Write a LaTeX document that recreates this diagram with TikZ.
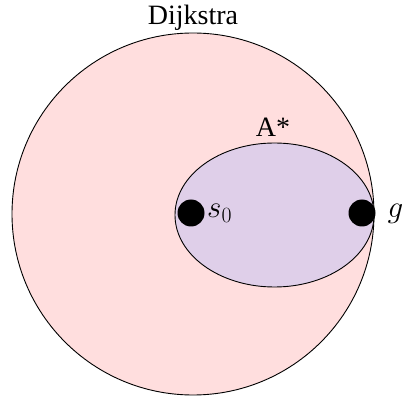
\documentclass[tikz,border=0pt]{standalone}
\usepackage{fix-cm}
\usepackage{fontspec}
\setmainfont{Liberation Serif}
\usetikzlibrary{shapes.geometric}
\definecolor{dijfill}{RGB}{255,222,222}
\definecolor{astarfill}{RGB}{223,207,233}
\tikzset{
  region/.style={draw=black, line width=0.9pt},
  dot/.style={circle, fill=black, inner sep=0pt, minimum size=27pt},
  lbl/.style={inner sep=0pt, font=\fontsize{28}{32}\selectfont},
  mlbl/.style={inner sep=0pt, font=\fontsize{31}{34}\selectfont}
}
\begin{document}
\begin{tikzpicture}[x=1pt,y=-1pt]
\useasboundingbox (0,0) rectangle (402,398);
\node[region, circle, fill=dijfill, minimum size=362pt, inner sep=0pt] (dij) at (193,214) {};
\node[region, ellipse, fill=astarfill, minimum width=199pt, minimum height=144pt, inner sep=0pt] (astar) at (274.5,215) {};
\node[dot] (s0) at (191,213) {};
\node[dot] (g) at (362,213) {};
\node[lbl, anchor=base] (dijl) at (193,25) {Dijkstra};
\node[lbl, anchor=base] (astarl) at (273,137) {A*};
\node[mlbl, anchor=base west] (s0l) at (207,218) {$s_0$};
\node[mlbl, anchor=base west] (gl) at (387.5,218) {$g$};
\end{tikzpicture}
\end{document}
